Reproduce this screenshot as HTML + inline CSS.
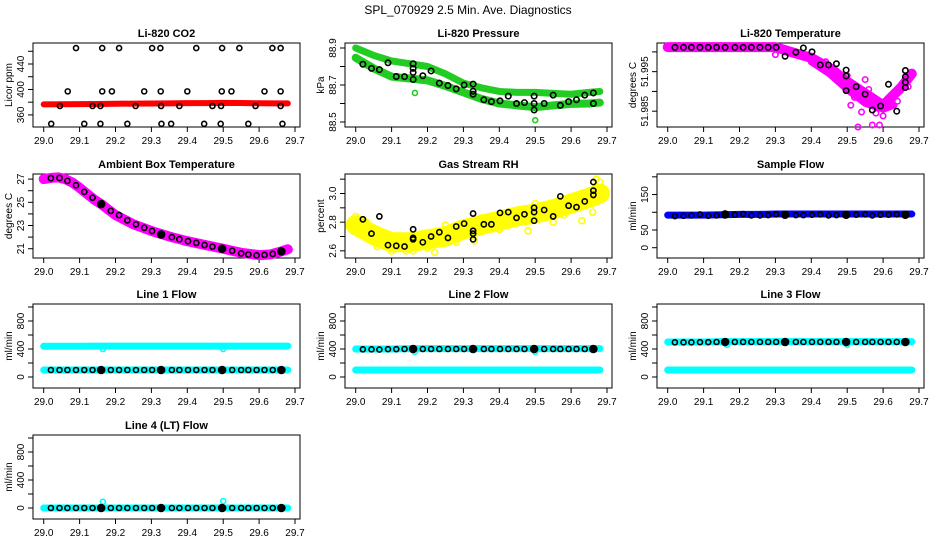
<!DOCTYPE html>
<html><head><meta charset="utf-8">
<style>
html,body{margin:0;padding:0;background:#fff;}
svg{display:block;font-family:"Liberation Sans",Arial,sans-serif;}
.t{font-size:12px;}
.pt{font-size:11px;font-weight:bold;}
.tk{font-size:10px;}
.al{font-size:10px;}
</style></head>
<body>
<svg id="chart" width="936" height="540" viewBox="0 0 936 540">
<rect x="0" y="0" width="936" height="540" fill="#fff"/>
<text x="468" y="14" text-anchor="middle" class="t">SPL_070929  2.5 Min. Ave. Diagnostics</text>
</svg>
<script>
// ---- data ----
const xTicks = [29.0,29.1,29.2,29.3,29.4,29.5,29.6,29.7];
const xTickLabels = ["29.0","29.1","29.2","29.3","29.4","29.5","29.6","29.7"];
const tB = [29.02,29.044,29.066,29.09,29.113,29.136,29.16,29.187,29.21,29.233,29.257,29.28,29.302,29.327,29.357,29.378,29.402,29.425,29.448,29.47,29.497,29.525,29.55,29.57,29.593,29.615,29.638,29.662];
const calT = [29.16,29.327,29.497,29.662];
const bandT = [29.0,29.05,29.1,29.15,29.2,29.25,29.3,29.35,29.4,29.45,29.5,29.55,29.6,29.65,29.68];

const co2Band = [376.5,376.8,377,377.2,377.5,377.7,378,378.2,378.5,378.5,379,378.7,378.3,378.2,378.2];
const co2PtT = [29.021,29.045,29.067,29.09,29.113,29.136,29.158,29.158,29.163,29.163,29.19,29.21,29.233,29.256,29.28,29.302,29.325,29.326,29.327,29.328,29.355,29.378,29.4,29.425,29.447,29.47,29.493,29.494,29.496,29.497,29.523,29.545,29.57,29.59,29.615,29.637,29.66,29.66,29.66,29.665];
const co2PtV = [346,374,397,465,346,374,346,374,465,397,397,465,346,374,397,465,465,397,374,346,346,374,397,465,346,374,346,374,397,465,397,465,346,374,397,465,465,397,374,346];

const presUpper = [88.9,88.86,88.83,88.815,88.8,88.76,88.71,88.685,88.665,88.66,88.66,88.655,88.65,88.66,88.665];
const presLower = [88.847,88.79,88.745,88.735,88.725,88.695,88.66,88.625,88.6,88.59,88.58,88.59,88.598,88.6,88.605];
const presBlack = [88.812,88.79,88.783,88.82,88.746,88.745,88.73,88.75,88.776,88.71,88.697,88.679,88.70,88.705,88.62,88.61,88.614,88.64,88.6,88.605,88.6,88.6,88.645,88.59,88.61,88.62,88.645,88.6];
const presExtraT = [29.16,29.16,29.16,29.327,29.327,29.497,29.497,29.662];
const presExtraV = [88.815,88.79,88.768,88.666,88.65,88.64,88.565,88.657];
const presOutT = [29.165,29.5];
const presOutV = [88.657,88.51];

const tempBand = [52.0012,52.0012,52.0012,52.0012,52.0012,52.0012,52.0012,51.9998,51.9985,51.996,51.9925,51.9895,51.9865,51.991,51.9945];
const tempBand2T = [29.4,29.45,29.5,29.55,29.6,29.63];
const tempBand2 = [51.9975,51.9945,51.9905,51.987,51.9855,51.9865];
const tempBlack = [52.00115,52.00115,52.00115,52.00115,52.00115,52.00115,52.00115,52.00115,52.00115,52.00115,52.00115,52.00115,52.00115,51.9989,51.9999,52.001,52.0,51.9967,51.9967,51.997,51.9954,51.9912,51.9893,51.9853,51.9863,51.9918,51.985,51.9953];
const tempExtraT = [29.497,29.497,29.662,29.662,29.662];
const tempExtraV = [51.9939,51.9902,51.9937,51.9923,51.991];
const tempOutT = [29.3,29.44,29.5,29.55,29.57,29.53,29.57,29.59,29.61,29.66,29.52,29.58,29.62,29.48,29.45,29.51,29.54,29.6,29.64,29.67,29.56,29.47,29.42];
const tempOutV = [51.9993,51.9975,51.994,51.993,51.9868,51.981,51.9815,51.9815,51.9858,51.9925,51.9885,51.9845,51.9885,51.9935,51.9955,51.9865,51.9848,51.9838,51.9875,51.9912,51.9905,51.9952,51.9978];

const ambBandT = [29.0,29.02,29.04,29.06,29.08,29.1,29.12,29.14,29.16,29.2,29.25,29.3,29.35,29.4,29.45,29.5,29.55,29.6,29.63,29.66,29.68];
const ambBand = [27.0,27.1,27.15,27.0,26.7,26.25,25.75,25.25,24.85,23.9,23.1,22.53,22.05,21.65,21.32,21.0,20.65,20.45,20.5,20.75,20.95];
const ambBlack = [27.08,27.1,26.85,26.47,25.9,25.4,24.85,24.26,23.9,23.45,23.1,22.8,22.53,22.23,22.0,21.82,21.65,21.5,21.32,21.18,21.0,20.82,20.6,20.5,20.43,20.47,20.55,20.77];
const ambCal = [24.85,22.23,21.0,20.77];

const rhBand = [2.78,2.71,2.66,2.66,2.68,2.70,2.75,2.78,2.81,2.84,2.86,2.89,2.93,2.97,3.0];
const rhBlack = [2.82,2.72,2.84,2.64,2.635,2.63,2.69,2.66,2.70,2.73,2.69,2.77,2.79,2.86,2.785,2.785,2.865,2.87,2.83,2.855,2.87,2.885,2.84,2.98,2.915,2.905,2.945,2.99];
const rhExtraT = [29.16,29.16,29.327,29.327,29.327,29.497,29.497,29.662,29.662];
const rhExtraV = [2.75,2.68,2.74,2.72,2.68,2.9,2.81,3.02,3.08];
const rhOutT = [29.0,29.01,29.03,29.14,29.16,29.2,29.22,29.25,29.35,29.33,29.46,29.48,29.5,29.63,29.68,29.67,29.66,29.58,29.06,29.1,29.28,29.4,29.55];
const rhOutV = [2.84,2.78,2.8,2.6,2.6,2.62,2.59,2.78,2.83,2.67,2.87,2.74,2.93,2.81,3.08,3.1,2.87,2.85,2.63,2.6,2.66,2.75,2.8];

const sfBand = [92,92,92,93,94,94,95,95,95,95,95,95,95,95,95];
const sfBlack = [89,90,91,94,90,91,92,93,95,91,91,92,94,95,92,92,93,94,91,92,93,93,94,91,93,93,94,93];
const sfCal = [94,93,93,93];

const l1Upper = [440,440,440,442,442,442,442,442,442,442,442,442,442,442,442];
const l1Lower = [100,100,100,100,100,100,100,100,100,100,100,100,100,100,100];
const l1Black = [100,100,100,100,100,100,100,100,100,100,100,100,100,100,100,100,100,100,100,100,100,100,100,100,100,100,100,100];
const l1Cal = [100,100,100,100];
const l2Upper = [400,400,400,405,405,405,405,405,405,405,405,405,405,405,405];
const l2Lower = [100,100,100,100,100,100,100,100,100,100,100,100,100,100,100];
const l2Black = [395,395,392,398,398,400,400,400,400,400,400,400,400,400,400,400,400,400,400,400,400,400,400,400,400,400,400,400];
const l2Cal = [400,400,400,400];
const l3Upper = [500,500,500,505,505,505,505,505,505,505,505,505,505,505,505];
const l3Lower = [100,100,100,100,100,100,100,100,100,100,100,100,100,100,100];
const l3Black = [495,495,495,498,498,500,500,500,500,500,500,500,500,500,500,500,500,500,500,500,500,500,500,500,500,500,500,500];
const l3Cal = [500,500,500,500];
const l4Band = [0,0,0,0,0,0,0,0,0,0,0,0,0,0,0];
const l4Black = [0,0,0,0,0,0,0,0,0,0,0,0,0,0,0,0,0,0,0,0,0,0,0,0,0,0,0,0];
const l4Cal = [0,0,0,0];
const l4SpikeT = [29.165,29.5];
const l4SpikeV = [90,100];
const dipT = [29.165,29.5];

// ---- drawing ----
const svg = document.getElementById('chart');
const NS = 'http://www.w3.org/2000/svg';
const colL = [33,345,657], rowT = [43,174,304,435], PW = 267, PH = 84;

function panel(c, r, ymin, ymax) {
  const L = colL[c], T = rowT[r];
  return {L:L, T:T,
    x: v => L + 10.7 + (v - 29) * 359,
    y: v => T + (ymax - v) / (ymax - ymin) * PH};
}
function el(tag, parent) { const e = document.createElementNS(NS, tag); parent.appendChild(e); return e; }

function frame(p, name, title, ylab, yTicks, yLabels) {
  const g = el('g', svg);
  
  
  const b = el('rect', g);
  
  
  b.setAttribute('x', p.L); b.setAttribute('y', p.T); b.setAttribute('width', PW); b.setAttribute('height', PH);
  b.setAttribute('fill', 'none'); b.setAttribute('stroke', '#000');
  const tt = el('text', g);
  
  
  tt.setAttribute('x', p.L + PW / 2); tt.setAttribute('y', p.T - 6);
  tt.setAttribute('text-anchor', 'middle'); tt.setAttribute('class', 'pt');
  tt.textContent = title;
  xTicks.forEach((v, i) => {
    const tk = el('line', g);
    
    
    tk.setAttribute('x1', p.x(v)); tk.setAttribute('x2', p.x(v));
    tk.setAttribute('y1', p.T + PH); tk.setAttribute('y2', p.T + PH + 5); tk.setAttribute('stroke', '#000');
    const lb = el('text', g);
    
    
    lb.setAttribute('x', p.x(v)); lb.setAttribute('y', p.T + PH + 17);
    lb.setAttribute('text-anchor', 'middle'); lb.setAttribute('class', 'tk');
    lb.textContent = xTickLabels[i];
  });
  yTicks.forEach(v => {
    const tk = el('line', g);
    
    
    tk.setAttribute('x1', p.L); tk.setAttribute('x2', p.L - 5);
    tk.setAttribute('y1', p.y(v)); tk.setAttribute('y2', p.y(v)); tk.setAttribute('stroke', '#000');
  });
  yLabels.forEach(s => {
    const yy = p.y(parseFloat(s)), xx = p.L - 9;
    const lb = el('text', g);
    
    
    lb.setAttribute('x', xx); lb.setAttribute('y', yy);
    lb.setAttribute('text-anchor', 'middle'); lb.setAttribute('class', 'tk');
    lb.setAttribute('transform', 'rotate(-90 ' + xx + ' ' + yy + ')');
    lb.textContent = s;
  });
  const yl = el('text', g);
  
  
  const ax = p.L - 21, ay = p.T + PH / 2;
  yl.setAttribute('x', ax); yl.setAttribute('y', ay);
  yl.setAttribute('text-anchor', 'middle'); yl.setAttribute('class', 'al');
  yl.setAttribute('transform', 'rotate(-90 ' + ax + ' ' + ay + ')');
  yl.textContent = ylab;
  return g;
}
function band(p, g, ts, vs, color, w, name) {
  const pl = el('polyline', g);
  
  
  pl.setAttribute('points', ts.map((t, i) => p.x(t) + ',' + p.y(vs[i])).join(' '));
  pl.setAttribute('fill', 'none'); pl.setAttribute('stroke', color);
  pl.setAttribute('stroke-width', w); pl.setAttribute('stroke-linecap', 'round'); pl.setAttribute('stroke-linejoin', 'round');
}
function pts(p, g, ts, vs, color, filled, r, name) {
  ts.forEach((t, i) => {
    const c = el('circle', g);
    
    
    c.setAttribute('cx', p.x(t)); c.setAttribute('cy', p.y(vs[i])); c.setAttribute('r', r);
    c.setAttribute('fill', filled ? color : 'none'); c.setAttribute('stroke', color); c.setAttribute('stroke-width', 1.6);
  });
}

// CO2
let p = panel(0, 0, 341, 473);
let g = frame(p, 'co2', 'Li-820 CO2', 'Licor ppm', [360,380,400,420,440,460], ['360','400','440']);
band(p, g, bandT, co2Band, '#ff0000', 6, 'co2-series');
pts(p, g, co2PtT, co2PtV, '#000', false, 2.5, 'co2-diag-point');

// Pressure
p = panel(1, 0, 88.473, 88.927);
g = frame(p, 'pressure', 'Li-820 Pressure', 'kPa', [88.5,88.6,88.7,88.8,88.9], ['88.5','88.7','88.9']);
band(p, g, bandT, presUpper, '#22cc22', 7, 'pressure-upper-band');
band(p, g, bandT, presLower, '#22cc22', 8, 'pressure-lower-band');
pts(p, g, presOutT, presOutV, '#22cc22', false, 2.5, 'pressure-outlier');
pts(p, g, tB, presBlack, '#000', false, 2.7, 'pressure-diag-point');
pts(p, g, presExtraT, presExtraV, '#000', false, 2.7, 'pressure-diag-point');

// Temperature
p = panel(2, 0, 51.981, 52.00225);
g = frame(p, 'temperature', 'Li-820 Temperature', 'degrees C', [51.985,51.99,51.995,52.0], ['51.985','51.995']);
band(p, g, bandT, tempBand, '#ff00ff', 10, 'temperature-series');
band(p, g, tempBand2T, tempBand2, '#ff00ff', 7, 'temperature-series-spread');
pts(p, g, tempOutT, tempOutV, '#ff00ff', false, 2.7, 'temperature-outlier');
pts(p, g, tB, tempBlack, '#000', false, 2.7, 'temperature-diag-point');
pts(p, g, tempExtraT, tempExtraV, '#000', false, 2.7, 'temperature-diag-point');

// Ambient
p = panel(0, 1, 20.2, 27.44);
g = frame(p, 'ambient', 'Ambient Box Temperature', 'degrees C', [21,22,23,24,25,26,27], ['21','23','25','27']);
band(p, g, ambBandT, ambBand, '#ff00ff', 10, 'ambient-series');
pts(p, g, tB, ambBlack, '#000', false, 2.6, 'ambient-diag-point');
pts(p, g, calT, ambCal, '#000', true, 3.5, 'ambient-cal-point');

// RH
p = panel(1, 1, 2.55, 3.136);
g = frame(p, 'rh', 'Gas Stream RH', 'percent', [2.6,2.7,2.8,2.9,3.0,3.1], ['2.6','2.8','3.0']);
band(p, g, bandT, rhBand, '#ffff00', 20, 'rh-series');
pts(p, g, rhOutT, rhOutV, '#ffff00', false, 3, 'rh-outlier');
pts(p, g, tB, rhBlack, '#000', false, 2.6, 'rh-diag-point');
pts(p, g, rhExtraT, rhExtraV, '#000', false, 2.6, 'rh-diag-point');

// Sample flow
p = panel(2, 1, -29, 208);
g = frame(p, 'sample-flow', 'Sample Flow', 'ml/min', [0,50,100,150,200], ['0','50','150']);
band(p, g, bandT, sfBand, '#0000ff', 7, 'sample-flow-series');
pts(p, g, tB, sfBlack, '#000', false, 2.5, 'sample-flow-diag-point');
pts(p, g, calT, sfCal, '#000', true, 3.5, 'sample-flow-cal-point');

// Line flows
const lineCfg = [
  [0, 2, 'Line 1 Flow', 'line1', l1Upper, l1Lower, l1Black, l1Cal],
  [1, 2, 'Line 2 Flow', 'line2', l2Upper, l2Lower, l2Black, l2Cal],
  [2, 2, 'Line 3 Flow', 'line3', l3Upper, l3Lower, l3Black, l3Cal]
];
lineCfg.forEach(cf => {
  const pp = panel(cf[0], cf[1], -157, 1043);
  const gg = frame(pp, cf[3], cf[2], 'ml/min', [0,200,400,600,800,1000], ['0','400','800']);
  band(pp, gg, bandT, cf[4], '#00ffff', 7, cf[3] + '-upper-band');
  band(pp, gg, bandT, cf[5], '#00ffff', 7, cf[3] + '-lower-band');
  pts(pp, gg, dipT, dipT.map(() => cf[4][0] - 40), '#00ffff', false, 2.5, cf[3] + '-dip');
  pts(pp, gg, tB, cf[6], '#000', false, 2.5, cf[3] + '-diag-point');
  pts(pp, gg, calT, cf[7], '#000', true, 3.5, cf[3] + '-cal-point');
});
p = panel(0, 3, -157, 1043);
g = frame(p, 'line4', 'Line 4 (LT) Flow', 'ml/min', [0,200,400,600,800,1000], ['0','400','800']);
band(p, g, bandT, l4Band, '#00ffff', 7, 'line4-band');
pts(p, g, l4SpikeT, l4SpikeV, '#00ffff', false, 2.5, 'line4-spike');
pts(p, g, tB, l4Black, '#000', false, 2.5, 'line4-diag-point');
pts(p, g, calT, l4Cal, '#000', true, 3.5, 'line4-cal-point');
</script>
</body></html>
